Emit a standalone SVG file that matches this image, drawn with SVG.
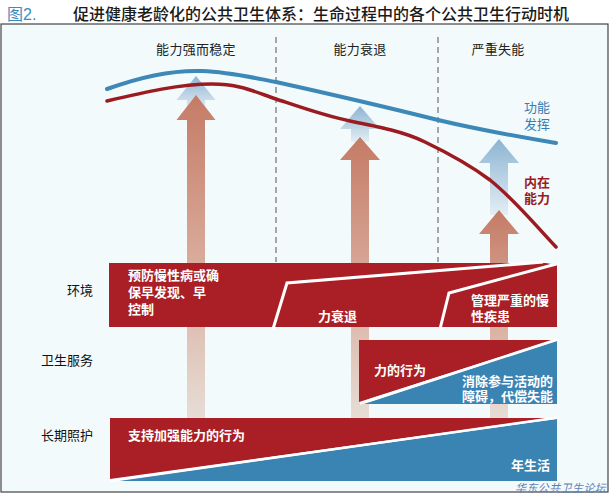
<svg xmlns="http://www.w3.org/2000/svg" width="610" height="494" viewBox="0 0 610 494">
<defs>
<style>
text{font-family:"Noto Sans CJK SC","Liberation Sans",sans-serif;}
.title{font-size:16px;fill:#1a1a1a;font-weight:500;}
.hdr{font-size:13px;fill:#222;text-anchor:middle;letter-spacing:0.3px;}
.lbl{font-size:13px;fill:#111;text-anchor:end;}
.bt{font-size:13px;fill:#fff;font-weight:bold;}
.red{fill:#a91f25;}
.blue{fill:#3a84b3;}
.gap{stroke:#fff;stroke-width:2.5;fill:none;}
.dash{stroke:#555;stroke-width:1;stroke-dasharray:6 4;fill:none;}
</style>
<linearGradient id="gSal" x1="0" y1="0" x2="0" y2="1">
<stop offset="0" stop-color="#c47b66"/>
<stop offset="0.45" stop-color="#d7a594"/>
<stop offset="1" stop-color="#e6ddd6"/>
</linearGradient>
<linearGradient id="gBlu" x1="0" y1="0" x2="0" y2="1">
<stop offset="0" stop-color="#8db4d3"/>
<stop offset="1" stop-color="#e4eef4"/>
</linearGradient>
</defs>
<rect x="0" y="0" width="610" height="494" fill="#ffffff"/>
<rect x="1" y="24" width="607" height="468" fill="#f3fafc" stroke="#444" stroke-width="1.2"/>

<g id="title">
<text x="7" y="20" style="font-family:'Liberation Sans','Noto Sans CJK SC',sans-serif;font-size:16px;fill:#3a8cc0;">图2.</text>
<text class="title" x="73" y="20">促进健康老龄化的公共卫生体系：生命过程中的各个公共卫生行动时机</text>
</g>

<g id="headers">
<text class="hdr" x="196" y="54">能力强而稳定</text>
<text class="hdr" x="360" y="54">能力衰退</text>
<text class="hdr" x="498" y="54">严重失能</text>
<line class="dash" x1="276" y1="37" x2="276" y2="262"/>
<line class="dash" x1="438" y1="37" x2="438" y2="262"/>
</g>

<g id="arrows">
<polygon fill="url(#gBlu)" points="196,76 215.5,100 205,100 205,110 187,110 187,100 176.5,100"/>
<polygon fill="url(#gSal)" points="196,95 215.5,120 205,120 205,418 187,418 187,120 176.5,120"/>
<polygon fill="url(#gBlu)" points="360,106 380,129 369,129 369,142 351,142 351,129 340,129"/>
<polygon fill="url(#gSal)" points="360,137 380,160 369,160 369,418 351,418 351,160 340,160"/>
<polygon fill="url(#gBlu)" points="499,139 519,163 508,163 508,215 490,215 490,163 479,163"/>
<polygon fill="url(#gSal)" points="499,210 519,234 508,234 508,418 490,418 490,234 479,234"/>
</g>

<g id="curves">
<path d="M107,89 C140,77 175,70 202,71 S250,77 276,82 C330,94 390,108 438,120 C480,130 520,137 556,143" fill="none" stroke="#3d88b7" stroke-width="4" stroke-linecap="round"/>
<path d="M107,101 C145,92 180,84 212,84 C240,84 255,92 276,99 C300,107 325,116 350,121 C380,127 405,132 425,142 C450,154 470,165 490,180 C515,200 535,225 556,247" fill="none" stroke="#9b1b20" stroke-width="3.5" stroke-linecap="round"/>
<text x="524" y="112" style="font-size:13px;fill:#3a7db1;">功能</text>
<text x="524" y="129" style="font-size:13px;fill:#3a7db1;">发挥</text>
<text x="524" y="187" style="font-size:13px;fill:#9b1b20;font-weight:bold;">内在</text>
<text x="524" y="203" style="font-size:13px;fill:#9b1b20;font-weight:bold;">能力</text>
</g>

<g id="env">
<rect class="red" x="109" y="263" width="448" height="64"/>
<polyline class="gap" points="273,329 287,283 543,262" style="stroke-width:3"/>
<polyline class="gap" points="440,329 449,293 560,263" style="stroke-width:3"/>
<polygon points="540,262 560,262 557,265" fill="#f3fafc"/>
<text class="bt" x="128" y="280">预防慢性病或确</text>
<text class="bt" x="128" y="297">保早发现、早</text>
<text class="bt" x="128" y="314">控制</text>
<text class="bt" x="318" y="321">力衰退</text>
<text class="bt" x="471" y="305">管理严重的慢</text>
<text class="bt" x="471" y="321">性疾患</text>
</g>

<g id="health">
<polygon class="red" points="359,340 553,340 359,402"/>
<polygon class="blue" points="364,404 557,341 557,404"/>
<line class="gap" x1="360" y1="403.5" x2="557" y2="339.5"/>
<text class="bt" x="374" y="375">力的行为</text>
<text class="bt" x="462" y="386">消除参与活动的</text>
<text class="bt" x="462" y="401">障碍，代偿失能</text>
</g>

<g id="longterm">
<polygon class="red" points="110,418 549,418 110,479"/>
<polygon class="blue" points="115,481 557,419 557,481"/>
<line class="gap" x1="110" y1="481" x2="558" y2="417.5"/>
<text class="bt" x="128" y="440">支持加强能力的行为</text>
<text class="bt" x="550" y="470" text-anchor="end">年生活</text>
</g>

<g id="labels">
<text class="lbl" x="93" y="295">环境</text>
<text class="lbl" x="93" y="365">卫生服务</text>
<text class="lbl" x="93" y="440">长期照护</text>
</g>

<text x="515" y="492" style="font-size:11px;fill:#5a7fb8;font-style:italic;letter-spacing:0.4px;">华东公共卫生论坛</text>
</svg>
